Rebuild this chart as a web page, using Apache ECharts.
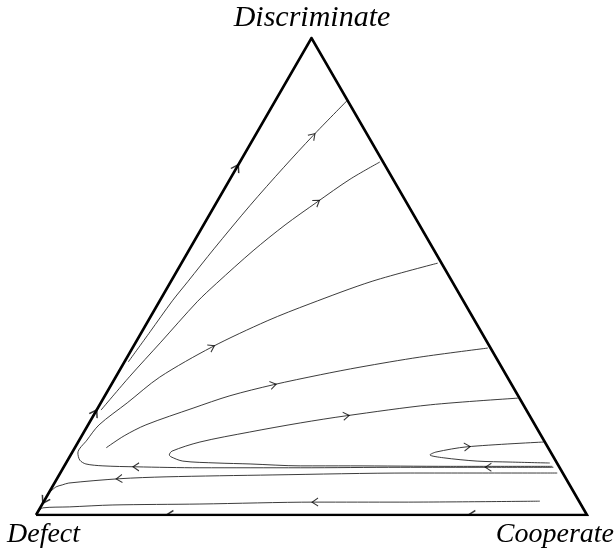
<!DOCTYPE html>
<html>
<head>
<meta charset="utf-8">
<script src="https://cdn.jsdelivr.net/npm/echarts@6/dist/echarts.min.js"></script>
<style>html,body{margin:0;padding:0;background:#fff}#c{width:615px;height:550px}</style>
</head>
<body>
<div id="c"></div>
<script>
// Vertex names and their shares [cooperate, discriminate] (defect = 1 - c - d)
const vertexNames = ['Defect', 'Cooperate', 'Discriminate'];
const vertexShares = [[0, 0], [1, 0], [0, 1]];

// Trajectories, in flow order, as [cooperate share, discriminate share]
const trajA = [[0.007,0.321],[0.015,0.384],[0.023,0.449],[0.031,0.490],[0.044,0.558],[0.064,0.649],[0.085,0.728],[0.105,0.795],[0.130,0.868]];
const trajB = [[0.008,0.220],[0.025,0.291],[0.045,0.361],[0.069,0.447],[0.085,0.486],[0.117,0.554],[0.148,0.608],[0.182,0.656],[0.218,0.704],[0.254,0.740]];
const trajC = [[0.889,0.100],[0.771,0.100],[0.611,0.100],[0.430,0.099],[0.248,0.099],[0.131,0.101],[0.070,0.103],[0.037,0.107],[0.022,0.115],[0.011,0.130],[0.014,0.157],[0.020,0.189],[0.048,0.235],[0.080,0.289],[0.143,0.352],[0.216,0.407],[0.276,0.443],[0.365,0.490],[0.465,0.528]];
const trajD = [[0.057,0.141],[0.077,0.166],[0.105,0.189],[0.173,0.224],[0.227,0.250],[0.294,0.273],[0.369,0.294],[0.433,0.310],[0.531,0.331],[0.645,0.350]];
const trajE = [[0.886,0.102],[0.701,0.102],[0.519,0.103],[0.428,0.103],[0.335,0.107],[0.274,0.109],[0.210,0.113],[0.184,0.122],[0.179,0.126],[0.180,0.134],[0.221,0.153],[0.301,0.174],[0.383,0.193],[0.459,0.208],[0.600,0.231],[0.752,0.245]];
const trajF = [[0.878,0.109],[0.805,0.111],[0.744,0.113],[0.679,0.120],[0.652,0.126],[0.660,0.132],[0.711,0.143],[0.845,0.153]];
const trajG = [[0.902,0.088],[0.635,0.088],[0.388,0.084],[0.196,0.080],[0.113,0.076],[0.026,0.067],[0.016,0.063],[0.007,0.059],[0.001,0.048]];
const trajH = [[0.900,0.029],[0.647,0.027],[0.493,0.027],[0.286,0.023],[0.129,0.021],[0.052,0.017],[0.005,0.015],[0.001,0.006]];

const trajectories = { A: trajA, B: trajB, C: trajC, D: trajD, E: trajE, F: trajF, G: trajG, H: trajH };

// Arrow heads on trajectories: [trajectory, point index]
const arrowMarks = [['A',7],['B',7],['C',1],['C',5],['C',14],['D',5],['E',13],['F',6],['G',4],['H',2]];

// Arrow heads on the simplex edges: [cooperate, discriminate, flowing toward vertex]
const edgeArrows = [[0,0.728,'Discriminate'],[0,0.214,'Discriminate'],[0,0.031,'Defect'],[0.243,0,'Defect'],[0.791,0,'Defect']];

const S3 = Math.sqrt(3) / 2;
const toXY = (p) => [p[0] + p[1] / 2, p[1] * S3];

const chart = echarts.init(document.getElementById('c'), null, { renderer: 'canvas' });

const ARROW = 'path://M0,0 L10,5 L0,10';
const HALF_ARROW = 'path://M0,0 M10,5 L0,10';

const series = [];

// Simplex edges
series.push({
  type: 'line',
  data: [vertexShares[0], vertexShares[1], vertexShares[2], vertexShares[0]].map(toXY),
  symbol: 'none',
  lineStyle: { color: '#000', width: 2.6, join: 'miter' },
  z: 5,
  silent: true,
  animation: false
});

Object.keys(trajectories).forEach((k) => {
  series.push({
    type: 'line',
    name: k,
    data: trajectories[k].map(toXY),
    symbol: 'none',
    smooth: 0.3,
    lineStyle: { color: '#262626', width: 0.9 },
    z: 2,
    silent: true,
    animation: false
  });
});

const angleOf = (a, b) => Math.atan2(b[1] - a[1], b[0] - a[0]) * 180 / Math.PI;

const arrowData = arrowMarks.map(([k, i]) => {
  const t = trajectories[k].map(toXY);
  const prev = t[Math.max(0, i - 1)], next = t[Math.min(t.length - 1, i + 1)];
  return { value: t[i], symbolRotate: angleOf(prev, next) };
});
series.push({
  type: 'scatter',
  data: arrowData,
  symbol: ARROW,
  symbolSize: [6, 8],
  itemStyle: { color: 'none', borderColor: '#000', borderWidth: 1 },
  z: 4,
  silent: true,
  animation: false
});

const edgeData = edgeArrows.map(([c, d, to]) => {
  const p = toXY([c, d]);
  const v = toXY(vertexShares[vertexNames.indexOf(to)]);
  return { value: p, symbolRotate: angleOf(p, v), symbol: d === 0 ? HALF_ARROW : ARROW };
});
series.push({
  type: 'scatter',
  data: edgeData,
  symbolSize: [7, 9],
  itemStyle: { color: 'none', borderColor: '#000', borderWidth: 1.4 },
  z: 6,
  silent: true,
  animation: false
});

const bottomFont = 'italic 28px "Liberation Serif", serif';
const topFont = 'italic 30px "Liberation Serif", serif';

chart.setOption({
  animation: false,
  backgroundColor: '#fff',
  grid: { left: 36, right: 28, top: 38, bottom: 35 },
  xAxis: { type: 'value', min: 0, max: 1, show: false },
  yAxis: { type: 'value', min: 0, max: S3, show: false },
  series: series,
  graphic: [
    { type: 'text', style: { text: vertexNames[2], x: 312, y: 18.5, font: topFont, textAlign: 'center', textVerticalAlign: 'middle', fill: '#000' } },
    { type: 'text', style: { text: vertexNames[0], x: 7, y: 534.5, font: bottomFont, textAlign: 'left', textVerticalAlign: 'middle', fill: '#000' } },
    { type: 'text', style: { text: vertexNames[1], x: 614, y: 534.5, font: bottomFont, textAlign: 'right', textVerticalAlign: 'middle', fill: '#000' } }
  ]
});
</script>
</body>
</html>
